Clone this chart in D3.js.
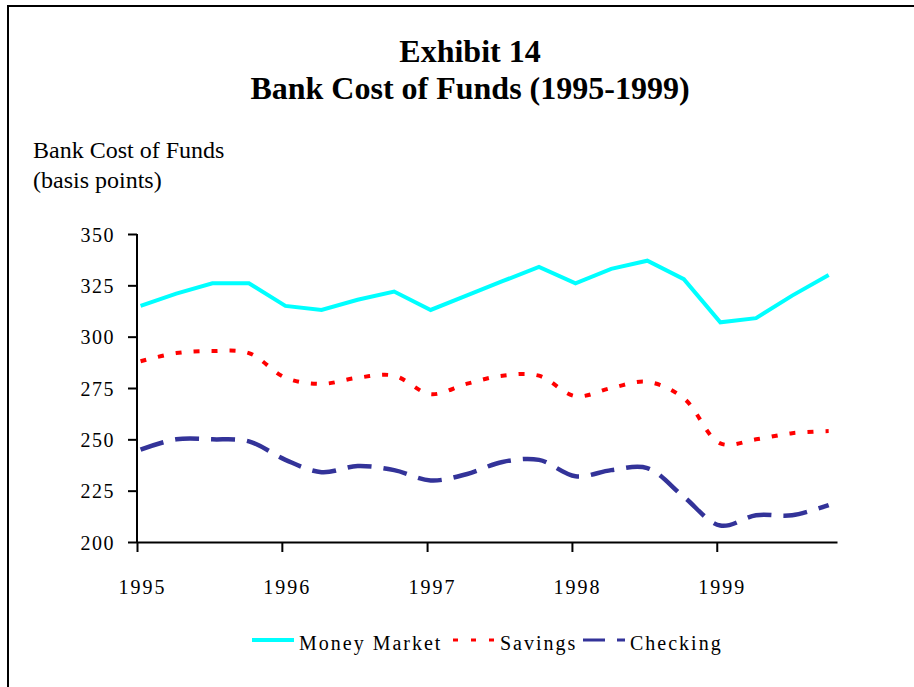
<!DOCTYPE html>
<html>
<head>
<meta charset="utf-8">
<script src="https://cdn.jsdelivr.net/npm/d3@7"></script>
<style>
  body { margin: 0; background: #fff; }
  svg { display: block; }
  text { font-family: "Liberation Serif", "Times New Roman", serif; fill: #000; }
</style>
</head>
<body>
<script>
var width = 914, height = 687;

// quarterly observations, 1995 Q1 .. 1999 Q4
var quarters = ["1995-01-10", "1995-04-10", "1995-07-10", "1995-10-10",
                "1996-01-10", "1996-04-10", "1996-07-10", "1996-10-10",
                "1997-01-10", "1997-04-10", "1997-07-10", "1997-10-10",
                "1998-01-10", "1998-04-10", "1998-07-10", "1998-10-10",
                "1999-01-10", "1999-04-10", "1999-07-10", "1999-10-10"];
var moneyMarket = [315, 321, 326, 326, 315, 313, 318, 322, 313, 320, 327, 334, 326, 333, 337, 328, 307, 309, 320, 330];
var savings     = [288, 292, 293, 292, 280, 277, 280, 281, 272, 277, 281, 281, 271, 275, 278, 270, 248, 250, 253, 254];
var checking    = [245, 250, 250, 249, 240, 234, 237, 235, 230, 233, 239, 240, 232, 235, 236, 222, 208, 213, 213, 218];
var yTicks = [200, 225, 250, 275, 300, 325, 350];
var xTicks = [1995, 1996, 1997, 1998, 1999];

var parse = d3.timeParse("%Y-%m-%d");
var dates = quarters.map(parse);

var svg = d3.select("body").append("svg").attr("width", width).attr("height", height);

// frame (only top and left edges fall inside the picture)
svg.append("rect")
  .attr("x", 8).attr("y", 6).attr("width", 1000).attr("height", 1000)
  .attr("fill", "none").attr("stroke", "#000").attr("stroke-width", 2);

svg.append("text").attr("x", 470).attr("y", 62).attr("text-anchor", "middle")
  .attr("font-size", 32).attr("font-weight", "bold").text("Exhibit 14");
svg.append("text").attr("x", 470).attr("y", 99).attr("text-anchor", "middle")
  .attr("font-size", 32).attr("font-weight", "bold").text("Bank Cost of Funds (1995-1999)");

svg.append("text").attr("x", 33).attr("y", 158).attr("font-size", 24).text("Bank Cost of Funds");
svg.append("text").attr("x", 33).attr("y", 188).attr("font-size", 24).text("(basis points)");

var x = d3.scaleTime()
  .domain([new Date(1995, 0, 1), new Date(1999, 9, 31)])
  .range([137, 837]);
var y = d3.scaleLinear().domain([200, 350]).range([542, 234]);

// y axis
var yAxis = svg.append("g").attr("transform", "translate(137,0)")
  .call(d3.axisLeft(y).tickValues(yTicks).tickSize(9).tickPadding(13));
yAxis.select(".domain").attr("stroke-width", 2).attr("d", "M0,234V542");
yAxis.selectAll(".tick line").attr("stroke-width", 2);
yAxis.selectAll(".tick text").attr("font-size", 20).attr("letter-spacing", 1.5)
  .attr("font-family", "Liberation Serif, serif").attr("dy", "0.35em");

// x axis
var xAxis = svg.append("g").attr("transform", "translate(0,542)")
  .call(d3.axisBottom(x).tickValues(xTicks.map(function (d) { return new Date(d, 0, 1); }))
    .tickFormat(d3.timeFormat("%Y")).tickSize(10).tickPadding(28).tickSizeOuter(0));
xAxis.select(".domain").attr("stroke-width", 2);
xAxis.selectAll(".tick line").attr("stroke-width", 2);
xAxis.selectAll(".tick text").attr("font-size", 20).attr("letter-spacing", 2)
  .attr("font-family", "Liberation Serif, serif").attr("dx", 5);

var series = [
  { name: "Money Market", values: moneyMarket, color: "#00FFFF", dash: null, width: 4, curve: d3.curveLinear },
  { name: "Savings", values: savings, color: "#FF0000", dash: "6,12", width: 4, curve: d3.curveCatmullRom },
  { name: "Checking", values: checking, color: "#333399", dash: "24,12", width: 4.5, curve: d3.curveCatmullRom }
];

series.forEach(function (s) {
  var line = d3.line()
    .x(function (d, i) { return x(dates[i]); })
    .y(function (d) { return y(d); })
    .curve(s.curve);
  svg.append("path")
    .datum(s.values)
    .attr("d", line)
    .attr("fill", "none")
    .attr("stroke", s.color)
    .attr("stroke-width", s.width)
    .attr("stroke-dasharray", s.dash);
});

// legend
var legendX = [252, 453, 583];
var legend = svg.append("g");
series.forEach(function (s, i) {
  legend.append("line")
    .attr("x1", legendX[i]).attr("x2", legendX[i] + 42)
    .attr("y1", 640).attr("y2", 640)
    .attr("stroke", s.color).attr("stroke-width", i == 0 ? 4 : 3)
    .attr("stroke-dasharray", i == 0 ? null : (i == 1 ? "5,13" : "22,12"));
  legend.append("text")
    .attr("x", legendX[i] + 47).attr("y", 650)
    .attr("font-size", 20).attr("letter-spacing", 2)
    .text(s.name);
});
</script>
</body>
</html>
